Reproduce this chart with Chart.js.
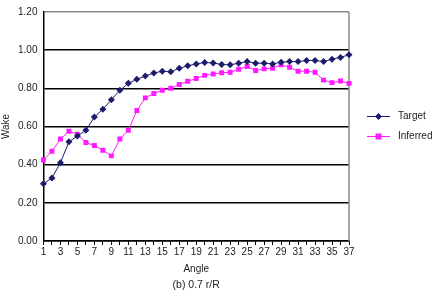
<!DOCTYPE html>
<html>
<head>
<meta charset="utf-8">
<script src="https://cdn.jsdelivr.net/npm/chart.js@4.4.1/dist/chart.umd.min.js"></script>
<style>
  html, body { margin: 0; padding: 0; background: #fff; }
  #wrap { width: 433px; height: 297px; }
</style>
</head>
<body>
<div id="wrap"><canvas id="wakeChart"></canvas></div>
<script>
// data
const angles = [];
for (let i = 1; i <= 37; i++) angles.push(String(i));

const targetWake = [0.30, 0.33, 0.41, 0.52, 0.55, 0.58, 0.65, 0.69, 0.74, 0.79,
  0.826, 0.847, 0.865, 0.88, 0.89, 0.887, 0.905, 0.918, 0.928, 0.935,
  0.933, 0.925, 0.923, 0.932, 0.94, 0.932, 0.932, 0.928, 0.937, 0.94,
  0.94, 0.946, 0.946, 0.94, 0.953, 0.962, 0.976];

const inferredWake = [0.424, 0.47, 0.534, 0.575, 0.56, 0.516, 0.50, 0.476, 0.446, 0.534,
  0.58, 0.684, 0.75, 0.773, 0.79, 0.80, 0.82, 0.837, 0.852, 0.868,
  0.875, 0.882, 0.884, 0.90, 0.914, 0.893, 0.902, 0.905, 0.923, 0.91,
  0.89, 0.89, 0.884, 0.843, 0.83, 0.838, 0.826];

const seriesNames = ['Target', 'Inferred'];
const captionText = '(b) 0.7 r/R';

const navy = '#1c1c6b';
const magenta = '#ff1aff';
const fontFam = '"Liberation Sans", Arial, sans-serif';

// right border of plot, custom legend (line + marker) and caption
const framePlugin = {
  id: 'frame',
  beforeDatasetsDraw(chart) {
    const { ctx, chartArea: a } = chart;
    ctx.save();
    ctx.strokeStyle = '#8a8a8a';
    ctx.lineWidth = 1.5;
    ctx.beginPath();
    ctx.moveTo(a.right, a.top);
    ctx.lineTo(a.right, a.bottom);
    ctx.stroke();
    ctx.restore();
  },
  afterDraw(chart) {
    const { ctx, chartArea: a } = chart;
    ctx.save();
    const mid = (a.top + a.bottom) / 2;
    const items = [
      { name: seriesNames[0], color: navy, style: 'diamond', y: mid - 10 },
      { name: seriesNames[1], color: magenta, style: 'square', y: mid + 10 }
    ];
    const x0 = a.right + 18;
    items.forEach(it => {
      ctx.strokeStyle = it.color;
      ctx.lineWidth = 1;
      ctx.beginPath();
      ctx.moveTo(x0, it.y);
      ctx.lineTo(x0 + 23, it.y);
      ctx.stroke();
      ctx.fillStyle = it.color;
      const cx = x0 + 11.5;
      if (it.style === 'diamond') {
        ctx.beginPath();
        ctx.moveTo(cx, it.y - 3.5);
        ctx.lineTo(cx + 3.5, it.y);
        ctx.lineTo(cx, it.y + 3.5);
        ctx.lineTo(cx - 3.5, it.y);
        ctx.closePath();
        ctx.fill();
      } else {
        ctx.fillRect(cx - 3, it.y - 3, 6, 6);
      }
      ctx.fillStyle = '#222';
      ctx.font = '10px ' + fontFam;
      ctx.textBaseline = 'middle';
      ctx.textAlign = 'left';
      ctx.fillText(it.name, x0 + 31, it.y);
    });
    // caption under the axis title
    ctx.fillStyle = '#222';
    ctx.font = '10.5px ' + fontFam;
    ctx.textAlign = 'center';
    ctx.textBaseline = 'middle';
    ctx.fillText(captionText, (a.left + a.right) / 2, 285.5);
    ctx.restore();
  }
};

const ctx = document.getElementById('wakeChart').getContext('2d');
const wakeChart = new Chart(ctx, {
  type: 'line',
  data: {
    labels: angles,
    datasets: [{
      label: seriesNames[0],
      data: targetWake,
      borderColor: navy,
      backgroundColor: navy,
      borderWidth: 1,
      pointStyle: 'rectRot',
      pointRadius: 3.5,
      pointBorderWidth: 0,
      tension: 0
    }, {
      label: seriesNames[1],
      data: inferredWake,
      borderColor: magenta,
      backgroundColor: magenta,
      borderWidth: 1,
      pointStyle: 'rect',
      pointRadius: 3.5,
      pointBorderWidth: 0,
      tension: 0
    }]
  },
  options: {
    responsive: true,
    maintainAspectRatio: false,
    animation: false,
    layout: { padding: { left: 0, right: 84, top: 6, bottom: 22 } },
    plugins: {
      legend: { display: false },
      tooltip: { enabled: false }
    },
    scales: {
      x: {
        offset: false,
        grid: {
          drawOnChartArea: false,
          drawTicks: true,
          tickLength: 4,
          color: '#000',
          lineWidth: 1
        },
        border: { color: '#000', width: 1.5 },
        ticks: {
          autoSkip: false,
          maxRotation: 0,
          padding: 1,
          color: '#222',
          font: { family: fontFam, size: 10 },
          callback: function(v, i) { return i % 2 === 0 ? this.getLabelForValue(v) : ''; }
        },
        title: {
          display: true,
          text: 'Angle',
          color: '#222',
          font: { family: fontFam, size: 10 },
          padding: { top: 4, bottom: 0 }
        }
      },
      y: {
        min: 0,
        max: 1.2,
        grid: {
          drawTicks: false,
          color: ctx => ctx.tick && ctx.tick.value >= 1.19 ? '#8a8a8a' : '#000',
          lineWidth: 1.5
        },
        border: { color: '#000', width: 1.5 },
        ticks: {
          stepSize: 0.2,
          padding: 6,
          color: '#222',
          font: { family: fontFam, size: 10 },
          callback: v => v.toFixed(2)
        },
        title: {
          display: true,
          text: 'Wake',
          color: '#222',
          font: { family: fontFam, size: 10 },
          padding: { top: 0, bottom: 0 }
        }
      }
    }
  },
  plugins: [framePlugin]
});
</script>
</body>
</html>
